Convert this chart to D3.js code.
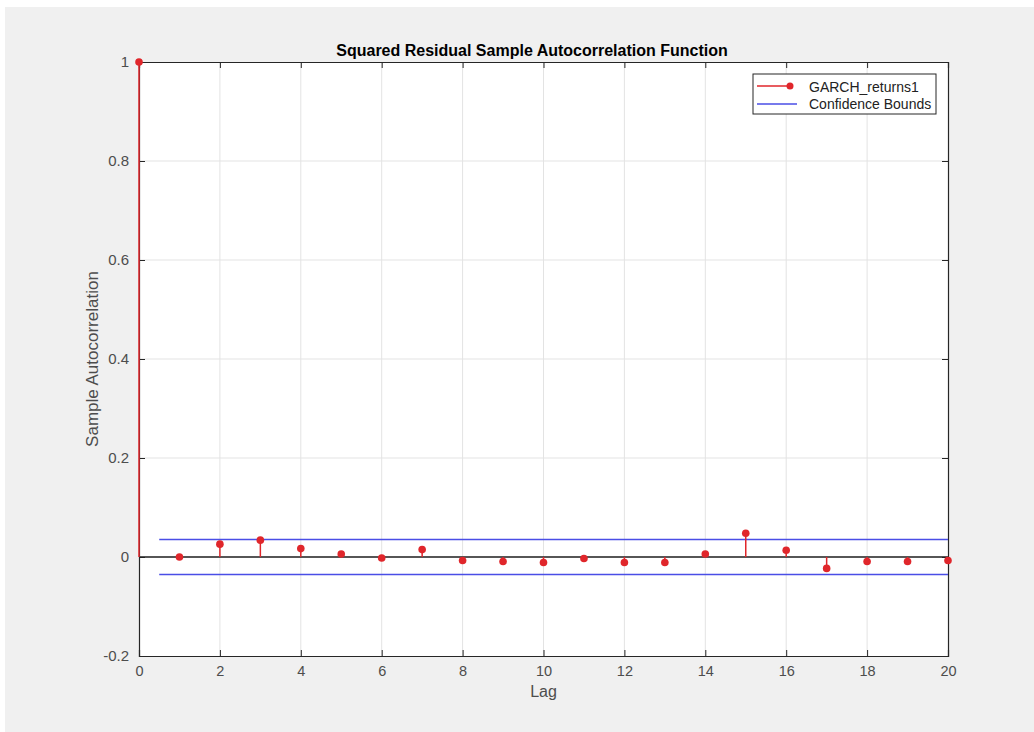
<!DOCTYPE html>
<html>
<head>
<meta charset="utf-8">
<script src="https://cdn.jsdelivr.net/npm/d3@7"></script>
<style>
  body { margin: 0; background: #fff; }
  svg { display: block; font-family: "Liberation Sans", Arial, sans-serif; }
</style>
</head>
<body>
<svg id="chart" width="1034" height="732"></svg>
<script>
// sample ACF of squared residuals, lags 0..20
const lags = d3.range(0, 21);
const acfValues = [1, 0.000, 0.026, 0.034, 0.017, 0.006, -0.002, 0.015, -0.007, -0.009, -0.011,
  -0.003, -0.011, -0.011, 0.006, 0.048, 0.0135, -0.023, -0.009, -0.009, -0.007];
const confBound = 0.0355;
const confRange = [0.5, 20];
const xTicks = [0, 2, 4, 6, 8, 10, 12, 14, 16, 18, 20];
const yTicks = [-0.2, 0, 0.2, 0.4, 0.6, 0.8, 1];
const seriesName = 'GARCH_returns1';
const boundsName = 'Confidence Bounds';

const red = '#e0262b';
const blue = '#4a4ee6';
const axisColor = '#262626';
const tickColor = '#4d4d4d';

const svg = d3.select('#chart');

// figure background
svg.append('rect')
  .attr('x', 5).attr('y', 7)
  .attr('width', 1029).attr('height', 725)
  .attr('fill', '#f0f0f0');

const pL = 139, pR = 948, pT = 62, pB = 656;

const x = d3.scaleLinear().domain([0, 20]).range([pL, pR]);
const y = d3.scaleLinear().domain([-0.2, 1]).range([pB, pT]);

svg.append('rect')
  .attr('x', pL).attr('y', pT)
  .attr('width', pR - pL).attr('height', pB - pT)
  .attr('fill', '#fff');

// grid
const grid = svg.append('g').attr('stroke', '#e3e3e3').attr('stroke-width', 1);
grid.selectAll('line.gx')
  .data(xTicks.slice(1, -1))
  .enter().append('line')
  .attr('x1', d => x(d)).attr('x2', d => x(d))
  .attr('y1', pT).attr('y2', pB);
grid.selectAll('line.gy')
  .data(yTicks.slice(1, -1))
  .enter().append('line')
  .attr('x1', pL).attr('x2', pR)
  .attr('y1', d => y(d)).attr('y2', d => y(d));

// axes with inward ticks
const xAxisB = d3.axisBottom(x).tickValues(xTicks).tickSize(-6).tickPadding(10).tickFormat(d3.format('d'));
const xAxisT = d3.axisTop(x).tickValues(xTicks).tickSize(-6).tickFormat('');
const yAxisL = d3.axisLeft(y).tickValues(yTicks).tickSize(-6).tickPadding(10).tickFormat(d => String(+d.toFixed(1)));
const yAxisR = d3.axisRight(y).tickValues(yTicks).tickSize(-6).tickFormat('');

function styleAxis(g, size) {
  g.select('.domain').attr('stroke', axisColor).attr('stroke-width', 1.2);
  g.selectAll('.tick line').attr('stroke', axisColor);
  g.selectAll('.tick text').attr('fill', tickColor).style('font-size', size)
    .style('font-family', '"Liberation Sans", Arial, sans-serif');
}

svg.append('g').attr('transform', `translate(0,${pB})`).call(xAxisB).call(styleAxis, '14.5px');
svg.append('g').attr('transform', `translate(0,${pT})`).call(xAxisT).call(styleAxis, '14.5px');
svg.append('g').attr('transform', `translate(${pL},0)`).call(yAxisL).call(styleAxis, '15px');
svg.append('g').attr('transform', `translate(${pR},0)`).call(yAxisR).call(styleAxis, '15px');

// zero line
svg.append('line')
  .attr('x1', pL).attr('x2', pR)
  .attr('y1', y(0)).attr('y2', y(0))
  .attr('stroke', '#222').attr('stroke-width', 1.5);

// confidence bounds
svg.selectAll('line.conf')
  .data([confBound, -confBound])
  .enter().append('line')
  .attr('x1', x(confRange[0])).attr('x2', x(confRange[1]))
  .attr('y1', d => y(d)).attr('y2', d => y(d))
  .attr('stroke', blue).attr('stroke-width', 1.5);

// stems
const data = lags.map((l, i) => ({ lag: l, v: acfValues[i] }));
svg.selectAll('line.stem')
  .data(data)
  .enter().append('line')
  .attr('x1', d => x(d.lag)).attr('x2', d => x(d.lag))
  .attr('y1', y(0)).attr('y2', d => y(d.v))
  .attr('stroke', red).attr('stroke-width', 1.5);
svg.selectAll('circle.pt')
  .data(data)
  .enter().append('circle')
  .attr('cx', d => x(d.lag)).attr('cy', d => y(d.v))
  .attr('r', 3.8).attr('fill', red);

// title and labels
svg.append('text')
  .attr('x', 532).attr('y', 56)
  .attr('text-anchor', 'middle')
  .style('font-size', '16px').style('font-weight', 'bold')
  .attr('fill', '#000')
  .text('Squared Residual Sample Autocorrelation Function');

svg.append('text')
  .attr('x', (pL + pR) / 2).attr('y', 697)
  .attr('text-anchor', 'middle')
  .style('font-size', '16px').attr('fill', tickColor)
  .text('Lag');

svg.append('text')
  .attr('transform', `translate(98,${(pT + pB) / 2}) rotate(-90)`)
  .attr('text-anchor', 'middle')
  .style('font-size', '17px').attr('fill', tickColor)
  .text('Sample Autocorrelation');

// legend
const lg = svg.append('g').attr('transform', 'translate(753,74)');
lg.append('rect')
  .attr('width', 183).attr('height', 40)
  .attr('fill', '#fff').attr('stroke', axisColor).attr('stroke-width', 1);
lg.append('line').attr('x1', 4).attr('x2', 37).attr('y1', 12).attr('y2', 12)
  .attr('stroke', red).attr('stroke-width', 1.5);
lg.append('circle').attr('cx', 37).attr('cy', 12).attr('r', 3.5).attr('fill', red);
lg.append('line').attr('x1', 4).attr('x2', 44).attr('y1', 30).attr('y2', 30)
  .attr('stroke', blue).attr('stroke-width', 1.5);
lg.append('text').attr('x', 56).attr('y', 17.5)
  .style('font-size', '14px').attr('fill', '#222').text(seriesName);
lg.append('text').attr('x', 56).attr('y', 35)
  .style('font-size', '14px').attr('fill', '#222').text(boundsName);
</script>
</body>
</html>
